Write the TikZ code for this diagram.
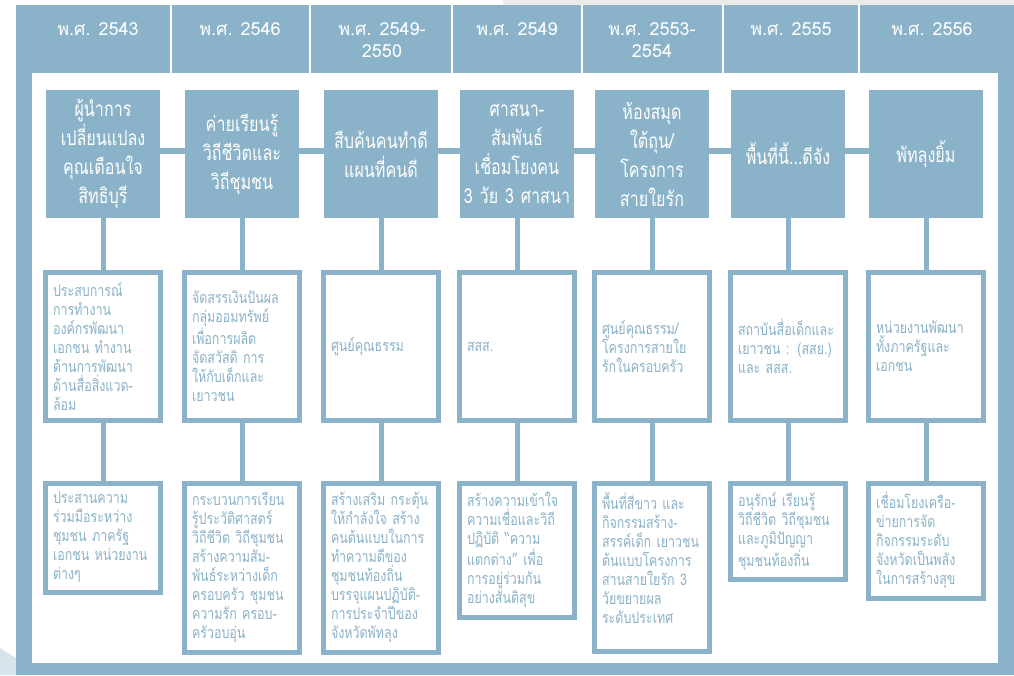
\documentclass[tikz,border=0pt]{standalone}
\usepackage{fontspec}
\newfontfamily\thaifont[Script=Thai, FakeStretch=0.78]{Loma}
\newfontfamily\yearfont[Script=Thai]{Loma}
\usetikzlibrary{positioning}
\definecolor{steel}{RGB}{138,178,200}
\tikzset{
  yr/.style = {
    anchor=north, align=center, inner sep=0pt, text=white,
    font=\yearfont\fontsize{13.5}{16.5}\selectfont
  },
  tb/.style = {
    fill=steel, text=white, align=center, inner sep=0pt,
    minimum width=85.5pt, minimum height=96pt, text width=82pt,
    font=\thaifont\fontsize{15.5}{21.75}\selectfont
  },
  mb/.style = {
    draw=steel, line width=3.75pt, fill=white, text=steel, align=left,
    text width=75pt, inner xsep=5.6pt, inner ysep=7pt,
    font=\thaifont\fontsize{12}{14.25}\selectfont
  },
  cb/.style = {
    mb, minimum height=111pt
  },
  bb/.style = {
    mb, anchor=north
  },
  link/.style = {
    draw=steel, line width=3.75pt
  }
}

\begin{document}
\begin{tikzpicture}[x=0.75pt, y=-0.75pt]
  \useasboundingbox (0,0) rectangle (1014,675);
  % backdrop and frame
  \fill [black!8] (503,0) rectangle (1014,5);
  \fill [steel!35] (0,648) -- (16,658) -- (16,675) -- (0,675) -- cycle;
  \fill [steel] (16,5) rectangle (1014,675);
  \fill [white] (32,73) rectangle (998,663);
  \foreach \x in {171,310,452,582,723,859}
    \draw [white, line width=2pt] (\x,5) -- (\x,73);
  % years
  \path
    (98,22) node [yr] (y1) {พ.ศ. 2543}
    (240,22) node [yr] (y2) {พ.ศ. 2546}
    (382,22) node [yr] (y3) {พ.ศ. 2549-\\2550}
    (517,22) node [yr] (y4) {พ.ศ. 2549}
    (652,22) node [yr] (y5) {พ.ศ. 2553-\\2554}
    (791,22) node [yr] (y6) {พ.ศ. 2555}
    (932,22) node [yr] (y7) {พ.ศ. 2556};
  % projects
  \path
    (103,154) node [tb] (t1) {ผู้นำการ\\เปลี่ยนแปลง\\คุณเตือนใจ\\สิทธิบุรี}
    (242,154) node [tb] (t2) {ค่ายเรียนรู้\\วิถีชีวิตและ\\วิถีชุมชน}
    (381,154) node [tb] (t3) {สืบค้นคนทำดี\\แผนที่คนดี}
    (517,154) node [tb] (t4) {ศาสนา-\\สัมพันธ์\\เชื่อมโยงคน\\3~วัย~3~ศาสนา}
    (652,154) node [tb] (t5) {ห้องสมุด\\ใต้ถุน/\\โครงการ\\สายใยรัก}
    (788,154) node [tb] (t6) {พื้นที่นี้...ดีจัง}
    (926,154) node [tb] (t7) {พัทลุงยิ้ม};
  % partners
  \path
    (103,346.5) node [cb] (m1) {ประสบการณ์\\การทำงาน\\องค์กรพัฒนา\\เอกชน ทำงาน\\ด้านการพัฒนา\\ด้านสื่อสิ่งแวด-\\ล้อม}
    (242,346.5) node [cb] (m2) {จัดสรรเงินปันผล\\กลุ่มออมทรัพย์\\เพื่อการผลิต\\จัดสวัสดิ การ\\ให้กับเด็กและ\\เยาวชน}
    (381,346.5) node [cb] (m3) {ศูนย์คุณธรรม}
    (517,346.5) node [cb] (m4) {สสส.}
    (652,346.5) node [cb] (m5) {ศูนย์คุณธรรม/\\โครงการสายใย\\รักในครอบครัว}
    (788,346.5) node [cb] (m6) {สถาบันสื่อเด็กและ\\เยาวชน : (สสย.)\\และ สสส.}
    (926,346.5) node [cb] (m7) {หน่วยงานพัฒนา\\ทั้งภาครัฐและ\\เอกชน};
  % outcomes
  \path
    (103,480.5) node [bb] (b1) {ประสานความ\\ร่วมมือระหว่าง\\ชุมชน ภาครัฐ\\เอกชน หน่วยงาน\\ต่างๆ}
    (242,480.5) node [bb] (b2) {กระบวนการเรียน\\รู้ประวัติศาสตร์\\วิถีชีวิต~วิถีชุมชน\\สร้างความสัม-\\พันธ์ระหว่างเด็ก\\ครอบครัว ชุมชน\\ความรัก ครอบ-\\ครัวอบอุ่น}
    (381,480.5) node [bb] (b3) {สร้างเสริม~กระตุ้น\\ให้กำลังใจ สร้าง\\คนต้นแบบในการ\\ทำความดีของ\\ชุมชนท้องถิ่น\\บรรจุแผนปฏิบัติ-\\การประจำปีของ\\จังหวัดพัทลุง}
    (517,480.5) node [bb] (b4) {สร้างความเข้าใจ\\ความเชื่อและวิถี\\ปฏิบัติ “ความ\\แตกต่าง” เพื่อ\\การอยู่ร่วมกัน\\อย่างสันติสุข}
    (652,480.5) node [bb] (b5) {พื้นที่สีขาว และ\\กิจกรรมสร้าง-\\สรรค์เด็ก~เยาวชน\\ต้นแบบโครงการ\\สานสายใยรัก 3\\วัยขยายผล\\ระดับประเทศ\\ \mbox{}}
    (788,480.5) node [bb] (b6) {อนุรักษ์ เรียนรู้\\วิถีชีวิต~วิถีชุมชน\\และภูมิปัญญา\\ชุมชนท้องถิ่น}
    (926,480.5) node [bb] (b7) {เชื่อมโยงเครือ-\\ข่ายการจัด\\กิจกรรมระดับ\\จังหวัดเป็นพลัง\\ในการสร้างสุข};
  % links
  \foreach \a/\b in {t1/t2,t2/t3,t3/t4,t4/t5,t5/t6,t6/t7}
    \draw [link, line width=4.5pt] ([yshift=2.25pt]\a.east) -- ([yshift=2.25pt]\b.west);
  \foreach \i in {1,...,7}
    \draw [link] (t\i) -- (m\i) (m\i) -- (b\i);
\end{tikzpicture}
\end{document}
